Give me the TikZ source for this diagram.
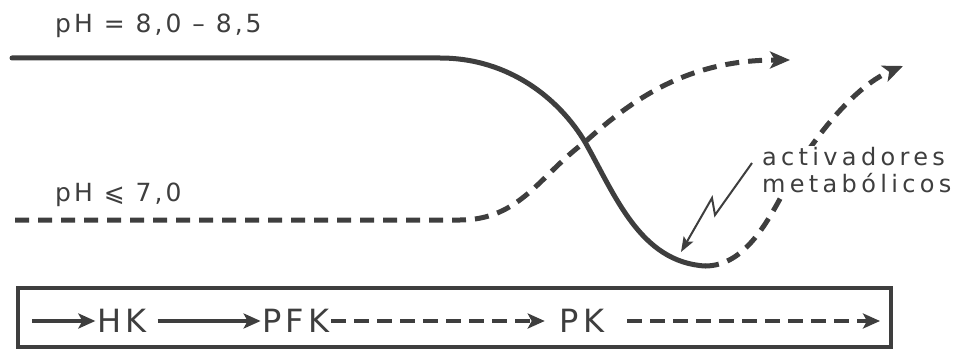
\documentclass[tikz,border=0pt]{standalone}
\usepackage{fontspec}
\newfontfamily\labelfont{DejaVu Sans}[LetterSpace=12]
\newfontfamily\widefont{DejaVu Sans}[LetterSpace=18]
\usetikzlibrary{arrows.meta}
\definecolor{ink}{RGB}{62,62,62}

\begin{document}
\begin{tikzpicture}[x=1pt,y=-1pt, ink,
  flowline/.style={draw=ink, line width=5pt, line cap=round},
  dashline/.style={draw=ink, line width=5pt, dash pattern=on 14pt off 9pt},
  bigtip/.style={-{Stealth[length=20pt,width=17pt,inset=5pt]}},
  boxarrow/.style={draw=ink, line width=4.5pt, -{Stealth[length=17pt,width=15pt,inset=4pt]}},
  boxdash/.style={boxarrow, dash pattern=on 15pt off 8pt},
  zapline/.style={draw=ink, line width=2pt, -{Stealth[length=15pt,width=11pt,inset=3pt]}},
  phlabel/.style={text=ink, inner sep=0pt, anchor=base west, font=\labelfont\fontsize{25}{29}\selectfont},
  enzyme/.style={text=ink, inner sep=2pt, font=\labelfont\fontsize{32}{36}\selectfont}]
\useasboundingbox (0,0) rectangle (966,350);

% labels of the two routes
\node[phlabel] (phhigh) at (55,33) {pH = 8,0 – 8,5};
\node[phlabel] (phlow) at (55,201) {pH ⩽ 7,0};

% named points of the curves
\coordinate (hstart) at (12,58);
\coordinate (hbend) at (440,58);
\coordinate (hcross) at (585,142);
\coordinate (bottom) at (705,266);
\coordinate (lstart) at (15,220);
\coordinate (lbend) at (460,220);
\coordinate (ltip) at (790,60);
\coordinate (behind) at (790,180);
\coordinate (rtip) at (903,66);

% pH 8,0-8,5: solid route down to the bottom
\draw[flowline] (hstart) -- (hbend)
  .. controls (510,58) and (560,100) .. (hcross)
  .. controls (615,195) and (640,262) .. (bottom);

% pH <= 7,0: dashed route up
\draw[dashline, bigtip] (lstart) -- (lbend)
  .. controls (520,220) and (540,175) .. (hcross)
  .. controls (640,92) and (695,60) .. (ltip);

% dashed route back up from the bottom
\draw[dashline, bigtip] (bottom)
  .. controls (745,266) and (768,222) .. (behind)
  .. controls (806,150) and (850,88) .. (rtip);

% activators
\node[text=ink, fill=white, inner sep=1pt, anchor=north west, align=left,
  font=\widefont\fontsize{24}{27}\selectfont] (activ) at (761,146)
  {activadores\\metabólicos};
\coordinate (zap) at (752,163);
\coordinate (zapa) at (715,215);
\coordinate (zapb) at (712,198);
\coordinate (zaptip) at (681,252);
\draw[zapline] (zap) -- (zapa) -- (zapb) -- (zaptip);

% glycolysis chain in the box
\draw[draw=ink, line width=3.5pt] (18,288) rectangle (891,347);
\coordinate (chainin) at (32,321);
\node[enzyme] (hk) at (122,321) {HK};
\node[enzyme] (pfk) at (296,321) {PFK};
\node[enzyme] (pk) at (582,321) {PK};
\coordinate (chainout) at (880,321);

\draw[boxarrow] (chainin) -- (hk);
\draw[boxarrow, shorten <=9pt] (hk) -- (pfk);
\draw[boxdash, shorten >=13pt] (pfk) -- (pk);
\draw[boxdash, shorten <=21pt] (pk) -- (chainout);
\end{tikzpicture}
\end{document}
